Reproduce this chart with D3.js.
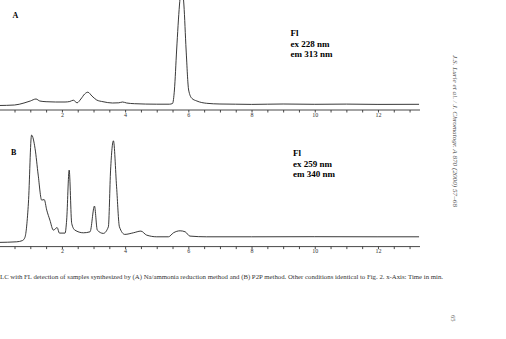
<!DOCTYPE html>
<html>
<head>
<meta charset="utf-8">
<script src="https://cdn.jsdelivr.net/npm/d3@7"></script>
<style>
  body { margin: 0; background: #fff; }
  svg { display: block; }
  .axis path, .axis line { stroke: #333; stroke-width: 0.9; }
  .axis text { font-family: 'Liberation Serif', serif; font-size: 6px; fill: #333; }
</style>
</head>
<body>
<svg id="chart" width="506" height="339"></svg>
<script>
  // time in min, detector signal (arbitrary units, above axis)
  const timeA = [0, 0.5, 0.8, 1.0, 1.18, 1.3, 1.5, 1.8, 2.1, 2.25, 2.36, 2.48, 2.6, 2.72, 2.82, 2.95, 3.1, 3.3, 3.6, 3.8, 3.92, 4.05, 4.3, 5.0, 5.4, 5.5, 5.56, 5.63, 5.72, 5.79, 5.86, 5.93, 6.01, 6.11, 6.27, 6.58, 7.0, 7.5, 8, 9, 10, 11, 12, 13.3]
  const signalA = [4.5, 5, 7, 9, 11, 9, 8.3, 8, 8, 8.5, 9.8, 7.2, 11, 16, 17.8, 14, 10, 8.3, 7, 7.2, 8, 7, 6.3, 5.8, 5.8, 6.5, 20, 60, 105, 125, 105, 60, 20, 11.7, 9, 6.7, 6, 5.8, 5.6, 6, 5.7, 5.9, 5.6, 5.7]

  const timeB = [0, 0.57, 0.75, 0.83, 0.94, 1.04, 1.15, 1.25, 1.36, 1.44, 1.52, 1.62, 1.73, 1.85, 1.92, 2.1, 2.15, 2.23, 2.31, 2.41, 2.68, 2.89, 3.03, 3.12, 3.31, 3.47, 3.54, 3.63, 3.73, 3.82, 3.99, 4.26, 4.5, 4.68, 5.0, 5.37, 5.53, 5.74, 5.9, 6.05, 6.58, 8, 10, 12, 13.3]
  const signalB = [4.2, 4.8, 6, 9.2, 43.5, 111.5, 98.2, 71.5, 46.5, 47, 36.5, 26.5, 16.5, 19, 13.5, 13.5, 26.5, 76.5, 23.2, 16.5, 13.8, 14.8, 40.5, 16.5, 13.2, 19.8, 76.5, 105.8, 59.8, 19.8, 12.2, 13.8, 15.5, 11.5, 9.8, 9.8, 13.8, 15.8, 14.8, 10.5, 9.8, 9.8, 9.9, 9.8, 9.8]

  const panelLabels = ['A', 'B']
  const detectorA = ['Fl', 'ex 228 nm', 'em 313 nm']
  const detectorB = ['Fl', 'ex 259 nm', 'em 340 nm']
  const tickValues = d3.range(0, 13.5, 0.5)
  const labelValues = [2, 4, 6, 8, 10, 12]

  const caption = 'LC with FL detection of samples synthesized by (A) Na/ammonia reduction method and (B) P2P method. Other conditions identical to Fig. 2. x-Axis: Time in min.'
  const runningHead = 'J.S. Lurie et al. / J. Chromatogr. A 870 (2000) 57\u201368'
  const pageNumber = '65'

  const svg = d3.select('#chart')

  const x = d3.scaleLinear().domain([0, 13.33]).range([-1.3, 420])

  const panels = [
    { label: panelLabels[0], times: timeA, values: signalA, axisY: 110, labelY: 18, textY: 36, texts: detectorA, textX: 290.5 },
    { label: panelLabels[1], times: timeB, values: signalB, axisY: 246.6, labelY: 155, textY: 156, texts: detectorB, textX: 293 }
  ]

  panels.forEach((p, k) => {
    const y = d3.scaleLinear().domain([0, 100]).range([p.axisY, p.axisY - 100])

    const axis = d3.axisBottom(x)
      .tickValues(tickValues)
      .tickSize(2.5)
      .tickSizeOuter(0)
      .tickFormat(d => labelValues.includes(d) ? d : '')

    const g = svg.append('g')
      .attr('class', 'axis')
      .attr('transform', `translate(0,${p.axisY})`)
      .call(axis)

    g.select('.domain').attr('d', `M0,0H${x.range()[1]}`)
    g.selectAll('.tick text').attr('dy', '0.55em').attr('y', 3.5)

    const line = d3.line()
      .x((d, i) => x(p.times[i]))
      .y(d => y(d))
      .curve(d3.curveMonotoneX)

    svg.append('path')
      .datum(p.values)
      .attr('fill', 'none')
      .attr('stroke', '#222')
      .attr('stroke-width', 0.9)
      .attr('d', line)

    svg.append('text')
      .attr('x', k === 0 ? 12.5 : 11)
      .attr('y', p.labelY)
      .attr('font-family', 'Liberation Serif, serif')
      .attr('font-weight', 'bold')
      .attr('font-size', 8)
      .text(p.label)

    svg.append('g')
      .selectAll('text')
      .data(p.texts)
      .enter().append('text')
      .attr('x', p.textX)
      .attr('y', (d, i) => p.textY + i * 10.7)
      .attr('font-family', 'Liberation Serif, serif')
      .attr('font-weight', 'bold')
      .attr('font-size', 9)
      .text(d => d)
  })

  // figure caption
  svg.append('text')
    .attr('x', 0)
    .attr('y', 279)
    .attr('font-family', 'Liberation Serif, serif')
    .attr('font-size', 5.6)
    .attr('fill', '#333')
    .attr('textLength', 443)
    .attr('lengthAdjust', 'spacingAndGlyphs')
    .text(caption)

  // running head, rotated along the right margin
  svg.append('text')
    .attr('transform', 'translate(452.5,55) rotate(90)')
    .attr('font-family', 'Liberation Serif, serif')
    .attr('font-style', 'italic')
    .attr('font-size', 6.5)
    .attr('fill', '#555')
    .attr('textLength', 152)
    .attr('lengthAdjust', 'spacingAndGlyphs')
    .text(runningHead)

  svg.append('text')
    .attr('transform', 'translate(451,315) rotate(90)')
    .attr('font-family', 'Liberation Serif, serif')
    .attr('font-size', 6.5)
    .attr('fill', '#555')
    .text(pageNumber)
</script>
</body>
</html>
